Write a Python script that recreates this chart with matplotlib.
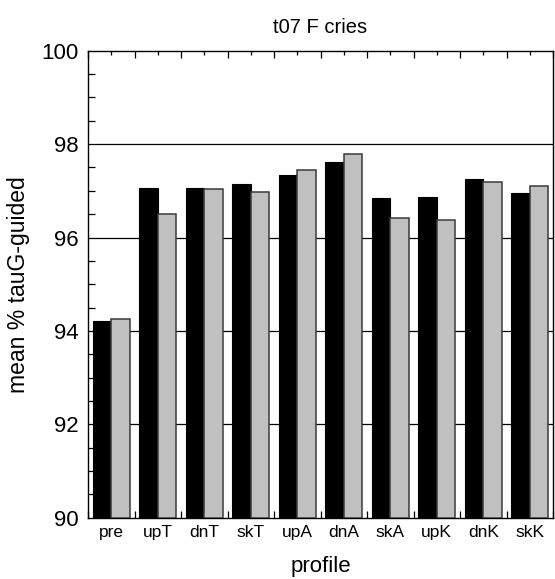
import matplotlib
matplotlib.use('Agg')
import matplotlib.pyplot as plt
import numpy as np
from matplotlib.ticker import MultipleLocator, FixedLocator

plt.rcParams['font.family'] = ['Liberation Sans', 'DejaVu Sans']

profiles = ['pre', 'upT', 'dnT', 'skT', 'upA', 'dnA', 'skA', 'upK', 'dnK', 'skK']
series_black = [94.21, 97.05, 97.05, 97.14, 97.34, 97.62, 96.84, 96.86, 97.25, 96.95]
series_gray = [94.25, 96.50, 97.04, 96.97, 97.44, 97.79, 96.41, 96.38, 97.19, 97.11]

fig = plt.figure(figsize=(5.55, 5.79), dpi=100)
ax = fig.add_axes([0.1586, 0.1059, 0.8378, 0.8065])

x = np.arange(len(profiles))
w = 0.4
ax.bar(x - w / 2, np.array(series_black) - 90, w, bottom=90, color='black',
       edgecolor='black', linewidth=0.8, zorder=3)
ax.bar(x + w / 2, np.array(series_gray) - 90, w, bottom=90, color='#c0c0c0',
       edgecolor='#3a3a3a', linewidth=1.1, zorder=3)

ax.set_xlim(-0.5, len(profiles) - 0.5)
ax.set_ylim(90, 100)

for g in [92, 94, 96, 98]:
    ax.axhline(g, color='black', linewidth=0.9, zorder=1)

# labels at bar-pair centres, boundary ticks on bottom and top
ax.set_xticks(x)
ax.set_xticklabels(profiles, fontsize=12.5)
ax.tick_params(axis='x', which='major', length=0, pad=5, bottom=True, top=False)
ax.xaxis.set_minor_locator(FixedLocator(np.arange(-0.5, len(profiles), 1.0)))
ax.tick_params(axis='x', which='minor', direction='in', length=5, top=True, bottom=True, width=0.9)
# small centre ticks along the top spine
sec = ax.secondary_xaxis('top')
sec.set_xticks(x)
sec.set_xticklabels([])
sec.tick_params(direction='in', length=3, width=0.9)
sec.spines['top'].set_visible(False)

ax.yaxis.set_major_locator(MultipleLocator(2))
ax.yaxis.set_minor_locator(MultipleLocator(0.5))
ax.tick_params(axis='y', which='major', direction='in', length=0, labelsize=16, pad=7)
ax.tick_params(axis='y', which='minor', direction='in', length=5, width=0.9)

for s in ax.spines.values():
    s.set_linewidth(1.0)

ax.set_title('t07 F cries', fontsize=14.5, pad=13)
ax.set_ylabel('mean % tauG-guided', fontsize=16.5, labelpad=8)
ax.set_xlabel('profile', fontsize=16, labelpad=12)

fig.savefig('out.png', dpi=100)
